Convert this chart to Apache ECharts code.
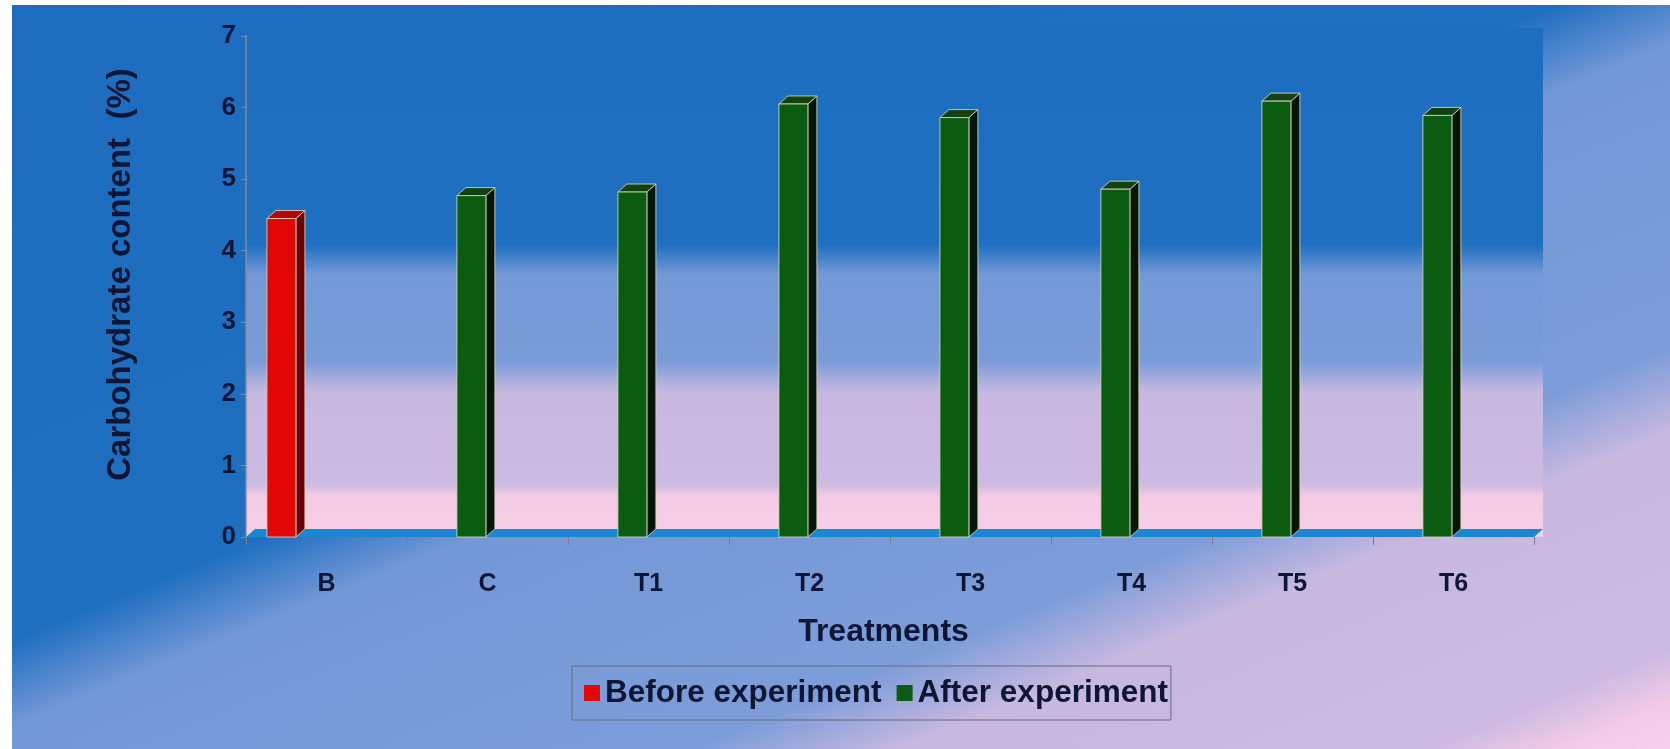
<!DOCTYPE html>
<html>
<head>
<meta charset="utf-8">
<script src="https://cdn.jsdelivr.net/npm/echarts@6/dist/echarts.min.js"></script>
<style>
  html, body { margin: 0; padding: 0; background: #ffffff; }
  #chart { width: 1670px; height: 749px; }
</style>
</head>
<body>
<div id="chart"></div>
<script>
// Treatments on the category axis
const categories = ['B', 'C', 'T1', 'T2', 'T3', 'T4', 'T5', 'T6'];
// Carbohydrate content (%) before the experiment (baseline only)
const beforeValues = [4.45, null, null, null, null, null, null, null];
// Carbohydrate content (%) after the experiment
const afterValues = [null, 4.77, 4.82, 6.05, 5.86, 4.86, 6.09, 5.89];
// Value axis ticks
const yTicks = [0, 1, 2, 3, 4, 5, 6, 7];

const FONT = "'Liberation Sans', Arial, Helvetica, sans-serif";
const TEXT = '#0e1634';
const DEPTH = [9, -8];            // oblique offset of the 3D depth
const EDGE = 'rgba(214,214,188,0.85)';

function toPairs(arr) {
  return arr.map((v, i) => (v == null ? null : [i, v])).filter(Boolean);
}

// Draws one 3D column: front face, right side face and top face.
function columnRenderer(slot, faces) {
  return function (params, api) {
    const idx = api.value(0);
    const val = api.value(1);
    const base = api.coord([idx, 0]);
    const top = api.coord([idx, val]);
    const band = api.size([1, 0])[0];
    const w = band * 0.18;
    const x0 = base[0] + band * slot - w / 2;
    const yb = base[1], yt = top[1];
    const dx = DEPTH[0], dy = DEPTH[1];
    return {
      type: 'group',
      children: [
        { type: 'polygon',
          shape: { points: [[x0 + w, yt], [x0 + w + dx, yt + dy], [x0 + w + dx, yb + dy], [x0 + w, yb]] },
          style: { fill: faces.side, stroke: EDGE, lineWidth: 1 } },
        { type: 'polygon',
          shape: { points: [[x0, yt], [x0 + dx, yt + dy], [x0 + w + dx, yt + dy], [x0 + w, yt]] },
          style: { fill: faces.top, stroke: EDGE, lineWidth: 1 } },
        { type: 'rect',
          shape: { x: x0, y: yt, width: w, height: yb - yt },
          style: { fill: faces.front, stroke: EDGE, lineWidth: 1 } }
      ]
    };
  };
}

// Back wall with its blue-to-pink shading and the thin floor slab.
function wallRenderer(params, api) {
  const cs = params.coordSys;
  const dx = DEPTH[0], dy = DEPTH[1];
  const yb = cs.y + cs.height;
  return {
    type: 'group',
    children: [
      { type: 'rect',
        shape: { x: cs.x, y: cs.y + dy, width: cs.width + dx, height: cs.height - dy },
        style: {
          fill: new echarts.graphic.LinearGradient(0, 0, 0, 1, [
            { offset: 0.00, color: '#1e6ec0' },
            { offset: 0.425, color: '#1f6fc1' },
            { offset: 0.485, color: '#7399d6' },
            { offset: 0.655, color: '#7a9cd8' },
            { offset: 0.715, color: '#c7b8e0' },
            { offset: 0.895, color: '#cbbae2' },
            { offset: 0.92, color: '#f3cbe4' },
            { offset: 1.00, color: '#f6cfe6' }
          ])
        } },
      { type: 'polygon',
        shape: { points: [[cs.x, yb], [cs.x + dx, yb + dy], [cs.x + cs.width + dx, yb + dy], [cs.x + cs.width, yb]] },
        style: { fill: '#1a87cf' } }
    ]
  };
}

const chart = echarts.init(document.getElementById('chart'), null, { renderer: 'canvas' });

chart.setOption({
  backgroundColor: 'transparent',
  animation: false,
  textStyle: { fontFamily: FONT },
  graphic: {
    elements: [{
      type: 'rect',
      z: -100,
      silent: true,
      shape: { x: 12, y: 5, width: 1658, height: 744 },
      style: {
        fill: {
          type: 'linear', global: true,
          x: 0, y: 0, x2: 505, y2: 1228,
          colorStops: [
            { offset: 0.00, color: '#1d6cbf' },
            { offset: 0.45, color: '#1f6fc0' },
            { offset: 0.51, color: '#7398d6' },
            { offset: 0.72, color: '#7d9dd9' },
            { offset: 0.78, color: '#c7b8e0' },
            { offset: 0.93, color: '#ccbae2' },
            { offset: 0.97, color: '#f3cbe6' },
            { offset: 1.00, color: '#f6d0ea' }
          ]
        }
      }
    }]
  },
  grid: { left: 246, right: 136, top: 36, bottom: 212 },
  legend: {
    left: 572,
    top: 666,
    padding: [11, 3, 11, 12],
    itemGap: 15,
    itemWidth: 16,
    itemHeight: 16,
    icon: 'rect',
    borderColor: '#6b6b78',
    borderWidth: 1,
    textStyle: { fontSize: 31.5, fontWeight: 'bold', fontFamily: FONT, color: TEXT },
    data: ['Before experiment', 'After experiment']
  },
  xAxis: {
    type: 'category',
    data: categories,
    z: 10,
    name: 'Treatments',
    nameLocation: 'middle',
    nameGap: 79,
    nameTextStyle: { fontSize: 32, fontWeight: 'bold', fontFamily: FONT, color: TEXT, padding: [0, 13, 0, 0] },
    axisLine: { show: false },
    axisTick: { show: true, length: 8, lineStyle: { color: '#7c7c88', width: 1 } },
    axisLabel: { margin: 35, fontSize: 25, fontWeight: 'bold', fontFamily: FONT, color: TEXT },
    splitLine: { show: false }
  },
  yAxis: {
    type: 'value',
    min: yTicks[0],
    max: yTicks[yTicks.length - 1],
    interval: yTicks[1] - yTicks[0],
    z: 10,
    name: 'Carbohydrate content  (%)',
    nameLocation: 'middle',
    nameRotate: 90,
    nameGap: 109,
    nameTextStyle: { fontSize: 33, fontWeight: 'bold', fontFamily: FONT, color: TEXT, padding: [0, 0, 0, 24] },
    axisLine: { show: true, lineStyle: { color: '#8a8a96', width: 1.5 } },
    axisTick: { show: true, length: 5, lineStyle: { color: '#8a8a96', width: 1 } },
    axisLabel: { margin: 10, fontSize: 26, fontWeight: 'bold', fontFamily: FONT, color: TEXT },
    splitLine: { show: false }
  },
  series: [
    {
      name: 'wall',
      type: 'custom',
      z: 1,
      silent: true,
      renderItem: wallRenderer,
      data: [[0, 0]],
      encode: { x: 0, y: 1 }
    },
    {
      name: 'Before experiment',
      type: 'custom',
      z: 3,
      itemStyle: { color: '#e20606' },
      renderItem: columnRenderer(-0.28, { front: '#e20606', side: '#6e0202', top: '#b80404' }),
      data: toPairs(beforeValues),
      encode: { x: 0, y: 1 }
    },
    {
      name: 'After experiment',
      type: 'custom',
      z: 3,
      itemStyle: { color: '#0b5c10' },
      renderItem: columnRenderer(-0.10, { front: '#0b5c10', side: '#061606', top: '#124212' }),
      data: toPairs(afterValues),
      encode: { x: 0, y: 1 }
    }
  ]
});
</script>
</body>
</html>
